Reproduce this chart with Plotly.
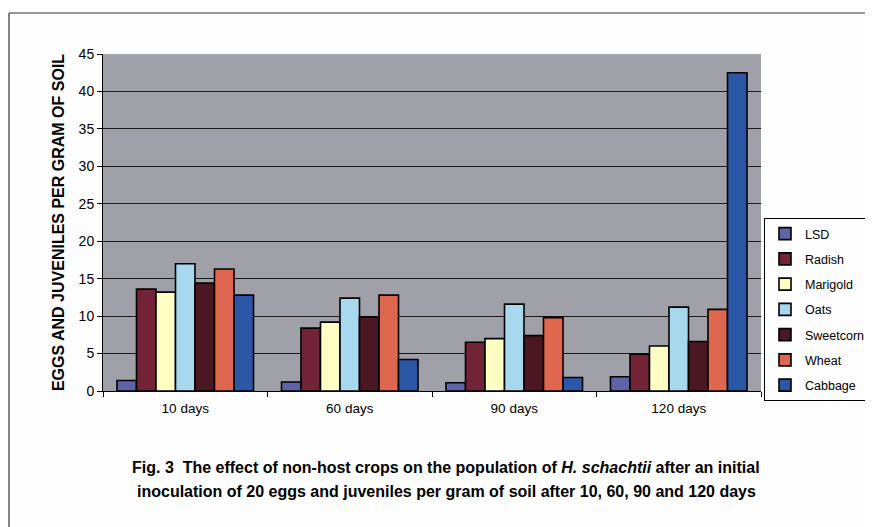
import plotly.graph_objects as go

categories = ["10 days", "60 days", "90 days", "120 days"]
series_names = ["LSD", "Radish", "Marigold", "Oats", "Sweetcorn", "Wheat", "Cabbage"]
lsd = [1.4, 1.2, 1.1, 1.9]
radish = [13.6, 8.4, 6.5, 4.9]
marigold = [13.2, 9.2, 7.0, 6.0]
oats = [17.0, 12.4, 11.6, 11.2]
sweetcorn = [14.4, 9.9, 7.4, 6.6]
wheat = [16.3, 12.8, 9.8, 10.9]
cabbage = [12.8, 4.2, 1.8, 42.5]
series_values = [lsd, radish, marigold, oats, sweetcorn, wheat, cabbage]
colors = ["#5f64a8", "#722436", "#ffffc4", "#a8d8ee", "#4a1822", "#e0674f", "#2c56a6"]
y_ticks = [0, 5, 10, 15, 20, 25, 30, 35, 40, 45]

fig = go.Figure()
for name, vals, col in zip(series_names, series_values, colors):
    fig.add_trace(go.Bar(
        x=categories, y=vals, name=name, legendgroup=name,
        marker=dict(color=col, line=dict(color="black", width=1.6)),
    ))

font = "Liberation Sans, Arial, sans-serif"
# the page has an 8px body margin; plot area in the window spans x 103-761, y 54-391
fig.update_layout(
    width=865, height=519,
    margin=dict(l=95, r=112, t=46, b=136, autoexpand=False),
    paper_bgcolor="#fdfdfd",
    plot_bgcolor="#a0a0a8",
    barmode="group", bargap=0.17, bargroupgap=0,
    font=dict(family=font, color="black"),
    showlegend=True,
    legend=dict(
        xref="container", yref="container",
        x=(764 - 8) / 865, xanchor="left", y=1 - (218 - 8) / 519, yanchor="top",
        bordercolor="black", borderwidth=1, bgcolor="#fdfdfd",
        font=dict(size=12.5, family=font), tracegroupgap=6,
        traceorder="grouped",
    ),
    xaxis=dict(
        showline=True, linecolor="black", linewidth=1,
        ticks="outside", tickson="boundaries", ticklen=5, tickcolor="black",
        tickfont=dict(size=13.5, family=font), showgrid=False, ticklabelstandoff=5,
    ),
    yaxis=dict(
        range=[0, 45], tickvals=y_ticks, ticktext=[str(v) for v in y_ticks],
        showline=True, linecolor="black", linewidth=1,
        ticks="outside", ticklen=5, tickcolor="black",
        tickfont=dict(size=14, family=font),
        showgrid=True, gridcolor="#1a1a1a", gridwidth=1, zeroline=False,
        title=dict(text="<b>EGGS AND JUVENILES PER GRAM OF SOIL</b>",
                   font=dict(size=16, family=font), standoff=10),
    ),
)

fig.add_annotation(
    xref="paper", yref="paper", x=(446 - 103) / 658, y=-(467 - 391) / 337,
    text="<b>Fig. 3  The effect of non-host crops on the population of <i>H. schachtii</i> after an initial</b>",
    showarrow=False, font=dict(size=16, family=font), xanchor="center", yanchor="middle",
)
fig.add_annotation(
    xref="paper", yref="paper", x=(446 - 103) / 658, y=-(491 - 391) / 337,
    text="<b>inoculation of 20 eggs and juveniles per gram of soil after 10, 60, 90 and 120 days</b>",
    showarrow=False, font=dict(size=16, family=font), xanchor="center", yanchor="middle",
)
# outer chart frame
fig.add_shape(type="line", xref="paper", yref="paper",
              x0=-(103 - 9) / 658, x1=(880 - 103) / 658, y0=(391 - 13) / 337, y1=(391 - 13) / 337,
              line=dict(color="#333333", width=1.2))
fig.add_shape(type="line", xref="paper", yref="paper",
              x0=-(103 - 9) / 658, x1=-(103 - 9) / 658, y0=(391 - 13) / 337, y1=-(540 - 391) / 337,
              line=dict(color="#333333", width=1.2))

fig.write_html("out.html")
